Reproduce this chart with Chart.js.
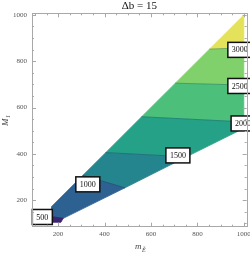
<!DOCTYPE html>
<html>
<head>
<meta charset="utf-8">
<script src="https://cdn.jsdelivr.net/npm/chart.js@4.4.1/dist/chart.umd.min.js"></script>
<style>
  html, body { margin: 0; padding: 0; background: #fff; }
  #wrap { width: 250px; height: 254px; }
</style>
</head>
<body>
<div id="wrap"><canvas id="chart"></canvas></div>
<script>
// contour levels and where their labels sit (mE, M1)
const levels = [500, 1000, 1500, 2000, 2500, 3000];
const labelPoints = [[132, 127], [328, 268], [716, 393], [997, 531], [983, 693], [983, 849]];

// contour lines: start on the upper/left edge, end on the lower/right edge
const contourStart = [[173, 128], [307, 307], [405, 405], [560, 560], [705, 705], [852, 852]];
const contourEnd = [[222, 121], [488, 253], [753, 387], [1000, 538], [1000, 697], [1000, 858]];

// filled bands between the contours, lowest level first
const bands = [
  [[173, 104], [212, 104], [222, 121], [173, 128]],
  [[173, 128], [222, 121], [488, 253], [307, 307], [173, 173]],
  [[307, 307], [488, 253], [753, 387], [405, 405]],
  [[405, 405], [753, 387], [1000, 510], [1000, 538], [560, 560]],
  [[560, 560], [1000, 538], [1000, 697], [705, 705]],
  [[705, 705], [1000, 697], [1000, 858], [852, 852]],
  [[852, 852], [1000, 858], [1000, 1000]],
];
const bandColors = ['#3d2474', '#2c6191', '#25858e', '#24a186', '#4cc07a', '#80d06b', '#e4e15a'];

const xTicks = [200, 400, 600, 800, 1000];
const yTicks = [200, 400, 600, 800, 1000];

const serif = '"Liberation Serif", "DejaVu Serif", serif';

function toPoints(list) {
  return list.map(([x, y]) => ({ x, y }));
}

const contourSets = contourStart.map((s, i) => ({
  data: toPoints([s, contourEnd[i]]),
  showLine: true,
  fill: false,
  borderColor: 'rgba(20, 40, 60, 0.35)',
  borderWidth: 0.7,
  pointRadius: 0,
  order: 0,
}));

const bandSets = bands.map((pts, i) => ({
  data: toPoints([...pts, pts[0]]),
  showLine: true,
  fill: 'shape',
  backgroundColor: bandColors[i],
  borderColor: bandColors[i],
  borderWidth: 0.8,
  pointRadius: 0,
  order: 1,
}));

const decorations = {
  id: 'decorations',
  afterDatasetsDraw(chart) {
    const { ctx, scales: { x, y } } = chart;
    ctx.save();
    // contour labels
    ctx.font = '8px ' + serif;
    ctx.textAlign = 'center';
    ctx.textBaseline = 'middle';
    levels.forEach((lv, i) => {
      const px = x.getPixelForValue(labelPoints[i][0]);
      const py = y.getPixelForValue(labelPoints[i][1]);
      const text = String(lv);
      const w = ctx.measureText(text).width + 8;
      const h = 15;
      ctx.fillStyle = '#fff';
      ctx.fillRect(px - w / 2, py - h / 2, w, h);
      ctx.strokeStyle = '#111';
      ctx.lineWidth = 1.5;
      ctx.strokeRect(px - w / 2, py - h / 2, w, h);
      ctx.fillStyle = '#111';
      ctx.fillText(text, px, py + 0.5);
    });
    ctx.restore();
  },
  afterDraw(chart) {
    const { ctx, chartArea: a, scales: { x, y } } = chart;
    ctx.save();
    // frame
    ctx.strokeStyle = '#a8a8a8';
    ctx.lineWidth = 1;
    ctx.strokeRect(Math.round(a.left) + 0.5, Math.round(a.top) + 0.5,
      Math.round(a.right - a.left), Math.round(a.bottom - a.top));
    // inward ticks on all four sides
    ctx.beginPath();
    for (let v = 100; v <= 1000; v += 50) {
      const len = v % 200 === 0 ? 4 : 2;
      const px = Math.round(x.getPixelForValue(v)) + 0.5;
      ctx.moveTo(px, a.bottom); ctx.lineTo(px, a.bottom - len);
      ctx.moveTo(px, a.top); ctx.lineTo(px, a.top + len);
      const py = Math.round(y.getPixelForValue(v)) + 0.5;
      ctx.moveTo(a.left, py); ctx.lineTo(a.left + len, py);
      ctx.moveTo(a.right, py); ctx.lineTo(a.right - len, py);
    }
    ctx.stroke();

    // title
    ctx.fillStyle = '#111';
    ctx.textAlign = 'center';
    ctx.textBaseline = 'middle';
    ctx.font = '11px ' + serif;
    ctx.fillText('\u0394b = 15', (a.left + a.right) / 2, 6);

    // x axis title
    ctx.fillStyle = '#444';
    ctx.textAlign = 'left';
    ctx.textBaseline = 'alphabetic';
    ctx.font = 'italic 9px ' + serif;
    ctx.fillText('m', 135, 249);
    ctx.font = 'italic 6px ' + serif;
    ctx.fillText('\u1EBC', 142, 252);

    // y axis title
    ctx.translate(8, 121);
    ctx.rotate(-Math.PI / 2);
    ctx.font = 'italic 9px ' + serif;
    ctx.fillText('M', -5, 0);
    ctx.font = 'italic 6px ' + serif;
    ctx.fillText('1', 3, 2);
    ctx.restore();
  },
};

new Chart(document.getElementById('chart'), {
  type: 'scatter',
  data: { datasets: [...contourSets, ...bandSets] },
  options: {
    responsive: true,
    maintainAspectRatio: false,
    animation: false,
    layout: { padding: { top: 13.3, right: 3.3, left: 0, bottom: 0 } },
    plugins: { legend: { display: false }, tooltip: { enabled: false } },
    scales: {
      x: {
        type: 'linear',
        min: 87.5,
        max: 1012.5,
        grid: { display: false, drawTicks: false },
        border: { display: false },
        afterBuildTicks: (s) => { s.ticks = xTicks.map((v) => ({ value: v })); },
        afterFit: (s) => { s.height = 27.3; s.paddingLeft = 0; s.paddingRight = 0; },
        ticks: {
          font: { family: serif, size: 7 }, color: '#555', padding: 3, maxRotation: 0,
          callback: (v) => String(v),
        },
      },
      y: {
        type: 'linear',
        min: 85,
        max: 1007,
        grid: { display: false, drawTicks: false },
        border: { display: false },
        afterBuildTicks: (s) => { s.ticks = yTicks.map((v) => ({ value: v })); },
        afterFit: (s) => { s.width = 32; s.paddingTop = 0; s.paddingBottom = 0; },
        ticks: {
          font: { family: serif, size: 7 }, color: '#555', padding: 5,
          callback: (v) => String(v),
        },
      },
    },
  },
  plugins: [decorations],
});
</script>
</body>
</html>
